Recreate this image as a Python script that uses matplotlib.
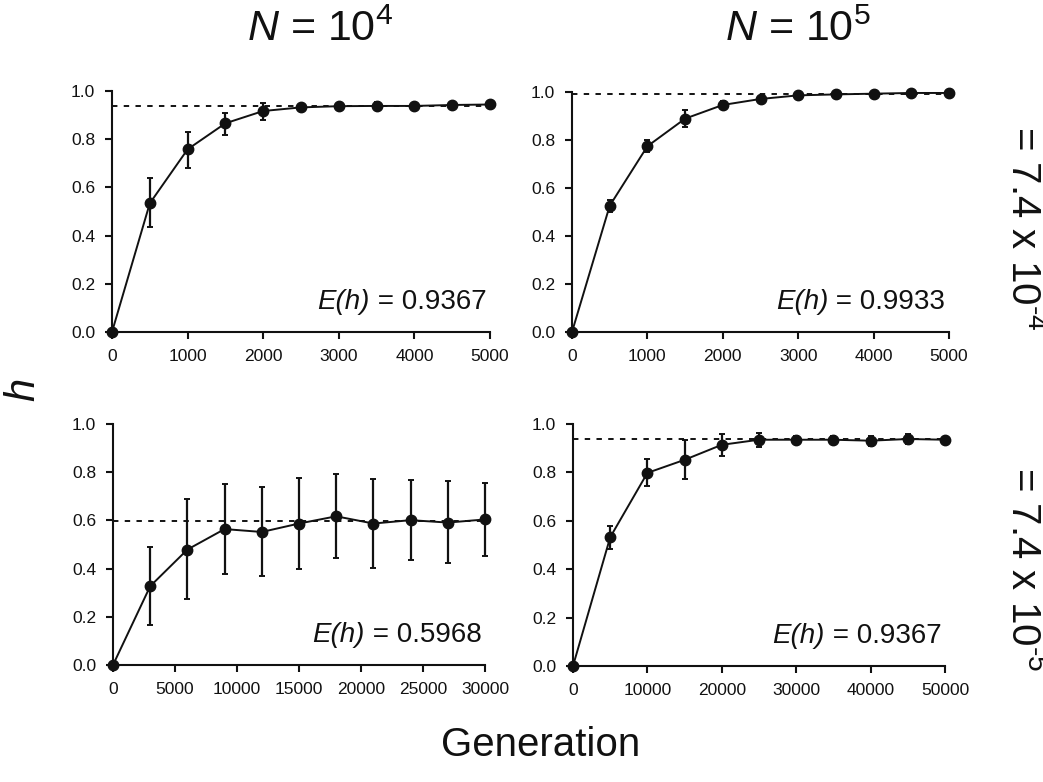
import matplotlib
matplotlib.use("Agg")
import matplotlib.pyplot as plt
import numpy as np

plt.rcParams['font.family'] = ['Liberation Sans', 'DejaVu Sans']
plt.rcParams['mathtext.fontset'] = 'custom'
plt.rcParams['mathtext.rm'] = 'Liberation Sans'
plt.rcParams['mathtext.it'] = 'Liberation Sans:italic'
plt.rcParams['mathtext.bf'] = 'Liberation Sans:bold'

# ---- data ----
gen_tl = [0, 500, 1000, 1500, 2000, 2500, 3000, 3500, 4000, 4500, 5000]
h_tl = [0.0, 0.534, 0.758, 0.866, 0.917, 0.932, 0.937, 0.938, 0.938, 0.942, 0.944]
lo_tl = [0.0, 0.434, 0.680, 0.818, 0.880, 0.925, 0.930, 0.922, 0.930, 0.932, 0.929]
hi_tl = [0.0, 0.637, 0.831, 0.910, 0.952, 0.940, 0.944, 0.953, 0.946, 0.952, 0.959]
eh_tl = 0.9367

gen_tr = [0, 500, 1000, 1500, 2000, 2500, 3000, 3500, 4000, 4500, 5000]
h_tr = [0.0, 0.526, 0.774, 0.889, 0.946, 0.971, 0.986, 0.990, 0.993, 0.996, 0.996]
lo_tr = [0.0, 0.500, 0.749, 0.854, 0.931, 0.963, 0.981, 0.986, 0.990, 0.993, 0.993]
hi_tr = [0.0, 0.551, 0.801, 0.924, 0.961, 0.979, 0.991, 0.994, 0.996, 0.999, 0.999]
eh_tr = 0.9933

gen_bl = [0, 3000, 6000, 9000, 12000, 15000, 18000, 21000, 24000, 27000, 30000]
h_bl = [0.0, 0.327, 0.479, 0.564, 0.552, 0.587, 0.617, 0.587, 0.601, 0.591, 0.604]
lo_bl = [0.0, 0.166, 0.273, 0.377, 0.369, 0.398, 0.443, 0.402, 0.435, 0.424, 0.453]
hi_bl = [0.0, 0.490, 0.687, 0.753, 0.739, 0.776, 0.791, 0.771, 0.768, 0.762, 0.754]
eh_bl = 0.5968

gen_br = [0, 5000, 10000, 15000, 20000, 25000, 30000, 35000, 40000, 45000, 50000]
h_br = [0.0, 0.532, 0.798, 0.852, 0.914, 0.935, 0.935, 0.935, 0.931, 0.938, 0.935]
lo_br = [0.0, 0.483, 0.744, 0.773, 0.869, 0.907, 0.920, 0.920, 0.911, 0.918, 0.925]
hi_br = [0.0, 0.580, 0.855, 0.932, 0.959, 0.961, 0.950, 0.950, 0.951, 0.958, 0.945]
eh_br = 0.9367

xticks_tl = [0, 1000, 2000, 3000, 4000, 5000]
xticks_bl = [0, 5000, 10000, 15000, 20000, 25000, 30000]
xticks_br = [0, 10000, 20000, 30000, 40000, 50000]
yticks = [0.0, 0.2, 0.4, 0.6, 0.8, 1.0]

col_titles = [r"$N$ = 10$^{4}$", r"$N$ = 10$^{5}$"]
row_labels = [r"= 7.4 x 10$^{\text{-4}}$", r"= 7.4 x 10$^{\text{-5}}$"]

W, H = 1043, 782
fig = plt.figure(figsize=(W / 100, H / 100), dpi=100)
INK = '#111111'


def px_axes(left, top, right, bottom):
    return fig.add_axes([left / W, 1 - bottom / H, (right - left) / W, (bottom - top) / H])


panels = [
    (px_axes(112, 91, 490, 332), gen_tl, h_tl, lo_tl, hi_tl, eh_tl, xticks_tl, 5000),
    (px_axes(572, 92, 949, 332), gen_tr, h_tr, lo_tr, hi_tr, eh_tr, xticks_tl, 5000),
    (px_axes(113, 424, 485, 665), gen_bl, h_bl, lo_bl, hi_bl, eh_bl, xticks_bl, 30000),
    (px_axes(573, 424, 945, 666), gen_br, h_br, lo_br, hi_br, eh_br, xticks_br, 50000),
]

for ax, g, h, lo, hi, eh, xt, xmax in panels:
    g = np.array(g); h = np.array(h); lo = np.array(lo); hi = np.array(hi)
    ax.plot([0, xmax], [eh, eh], color='black', lw=1.3, ls=(0, (3, 3.5)), zorder=1, clip_on=False)
    ax.errorbar(g, h, yerr=[h - lo, hi - h], fmt='o-', color=INK, ms=7.5, lw=1.4,
                elinewidth=1.6, capsize=2.5, capthick=1.4, zorder=3, clip_on=False)
    ax.set_xlim(0, xmax)
    ax.set_ylim(0, 1.0)
    ax.set_xticks(xt)
    ax.set_xticklabels([str(v) for v in xt])
    ax.set_yticks(yticks)
    ax.set_yticklabels([f"{v:.1f}" for v in yticks])
    for s in ['top', 'right']:
        ax.spines[s].set_visible(False)
    for s in ['left', 'bottom']:
        ax.spines[s].set_linewidth(1.5)
        ax.spines[s].set_color(INK)
    ax.tick_params(direction='out', length=5, width=1.5, labelsize=12.5, colors=INK, pad=7)
    t1 = ax.text(0.99, 0.07, f" = {eh:.4f}", transform=ax.transAxes,
                 ha='right', va='bottom', fontsize=20, color=INK)
    ax.annotate("E(h)", xy=(0, 0), xycoords=t1, ha='right', va='bottom',
                fontsize=20, fontstyle='italic', color=INK)

fig.text(247 / W, 1 - 30 / H, col_titles[0], ha='left', va='center', fontsize=31, color=INK)
fig.text(725 / W, 1 - 30 / H, col_titles[1], ha='left', va='center', fontsize=31, color=INK)
fig.text(1023 / W, 1 - 228 / H, row_labels[0], ha='center', va='center', rotation=-90,
         fontsize=29, color=INK)
fig.text(1023 / W, 1 - 569 / H, row_labels[1], ha='center', va='center', rotation=-90,
         fontsize=29, color=INK)
fig.text(24 / W, 1 - 390 / H, r"$h$", ha='center', va='center', rotation=90, fontsize=30, color=INK)
fig.text(541 / W, 1 - 745 / H, "Generation", ha='center', va='center', fontsize=29, color=INK)

fig.savefig("out.png", dpi=100)
